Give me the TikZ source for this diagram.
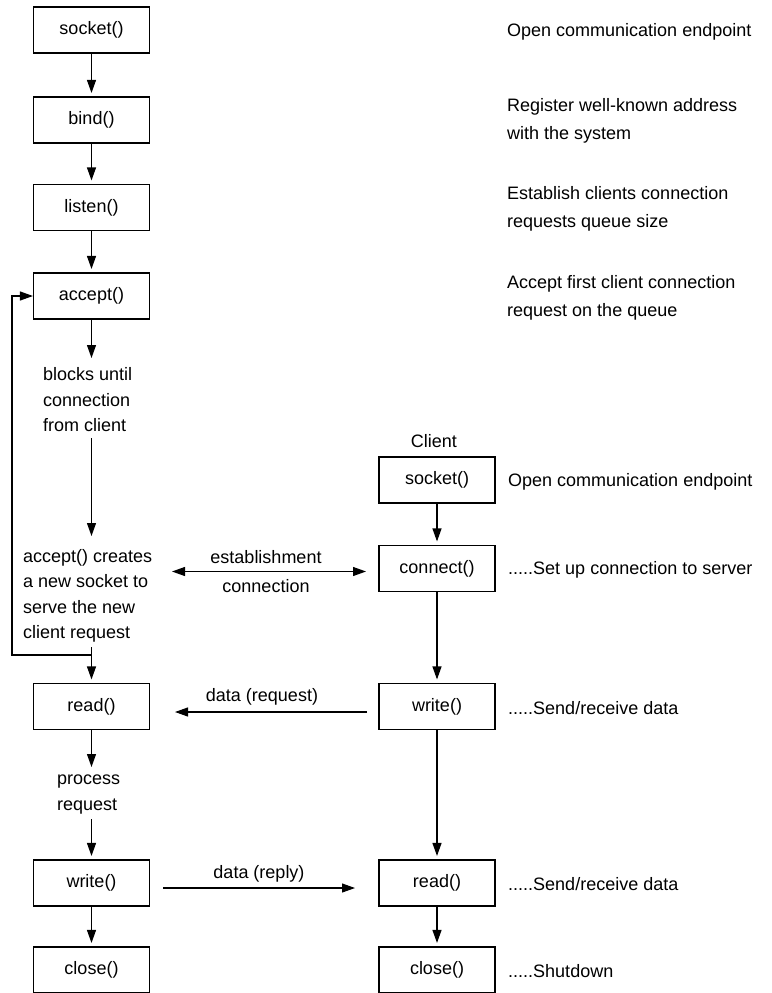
\documentclass[tikz,border=0pt]{standalone}
\usepackage{fontspec}
\setmainfont{Liberation Sans}
\usetikzlibrary{arrows.meta}
\begin{document}
\begin{tikzpicture}[x=1pt,y=-1pt,
  box/.style={draw, line width=1.1pt, minimum width=116pt, minimum height=46pt, inner sep=0pt, font=\fontsize{18}{22}\selectfont},
  txt/.style={inner sep=0pt, align=left, anchor=west, font=\fontsize{18}{28}\selectfont},
  ltxt/.style={inner sep=0pt, align=left, anchor=west, font=\fontsize{18}{25.5}\selectfont},
  lbl/.style={inner sep=0pt, font=\fontsize{18}{22}\selectfont},
  arr/.style={line width=1.1pt, -{Triangle[length=13pt,width=9pt]}},
  darr/.style={line width=1.1pt, {Triangle[length=13pt,width=9pt]}-{Triangle[length=13pt,width=9pt]}},
  tobox/.style={shorten >=3.5pt}]
\useasboundingbox (0,0) rectangle (771,993);

% server column
\node[box] (ssock) at (91.5,30) {socket()};
\node[box] (sbind) at (91.5,120) {bind()};
\node[box] (slisten) at (91.5,207.5) {listen()};
\node[box] (saccept) at (91.5,296) {accept()};
\node[box] (sread) at (91.5,706.5) {read()};
\node[box] (swrite) at (91.5,883) {write()};
\node[box] (sclose) at (91.5,970) {close()};

% client column
\node[lbl] (client) at (434,441) {Client};
\node[box] (csock) at (437,480) {socket()};
\node[box] (cconn) at (437,568.5) {connect()};
\node[box] (cwrite) at (437,706.5) {write()};
\node[box] (cread) at (437,883) {read()};
\node[box] (cclose) at (437,970) {close()};

% right descriptions
\node[txt] (d1) at (507,32) {Open communication endpoint};
\node[txt] (d2) at (507,121) {Register well-known address\\with the system};
\node[txt] (d3) at (507,209) {Establish clients connection\\requests queue size};
\node[txt] (d4) at (507,297.5) {Accept first client connection\\request on the queue};
\node[txt] (d5) at (508,482) {Open communication endpoint};
\node[txt] (d6) at (508,570) {.....Set up connection to server};
\node[txt] (d7) at (508,708) {.....Send/receive data};
\node[txt] (d8) at (508,884.5) {.....Send/receive data};
\node[txt] (d9) at (508,971.5) {.....Shutdown};

% left notes
\node[ltxt] (blocks) at (43,400) {blocks until\\connection\\from client};
\node[ltxt] (creates) at (23,596) {accept() creates\\a new socket to\\serve the new\\client request};
\node[ltxt] (process) at (57,794.5) {process\\request};

% server arrows
\draw[arr,tobox] (ssock) -- (sbind);
\draw[arr,tobox] (sbind) -- (slisten);
\draw[arr,tobox] (slisten) -- (saccept);
\coordinate (b1) at (91.5,358);
\draw[arr] (saccept) -- (b1);
\coordinate (b2) at (91.5,438);
\coordinate (b3) at (91.5,536);
\draw[arr] (b2) -- (b3);
\coordinate (c1) at (91.5,647);
\draw[arr,tobox] (c1) -- (sread);
\coordinate (fb) at (91.5,655);
\coordinate (fbl) at (12,655);
\draw[arr] (fb) -- (fbl) |- (saccept.west);
\coordinate (p1) at (91.5,767);
\draw[arr] (sread) -- (p1);
\coordinate (p2) at (91.5,819);
\draw[arr,tobox] (p2) -- (swrite);
\draw[arr,tobox] (swrite) -- (sclose);

% client arrows
\draw[arr,tobox] (csock) -- (cconn);
\draw[arr,tobox] (cconn) -- (cwrite);
\draw[arr,tobox] (cwrite) -- (cread);
\draw[arr,tobox] (cread) -- (cclose);

% horizontal exchanges
\coordinate (e1) at (172,571.5);
\coordinate (e2) at (366,571.5);
\draw[darr] (e1) -- (e2);
\node[lbl] (est1) at (266,557) {establishment};
\node[lbl] (est2) at (266,586) {connection};

\coordinate (r1) at (367,712);
\coordinate (r2) at (175,712);
\draw[arr] (r1) -- (r2);
\node[lbl] (req) at (262,697) {data (request)};

\coordinate (w1) at (163,888);
\coordinate (w2) at (355,888);
\draw[arr] (w1) -- (w2);
\node[lbl] (rep) at (259,874) {data (reply)};
\end{tikzpicture}
\end{document}
